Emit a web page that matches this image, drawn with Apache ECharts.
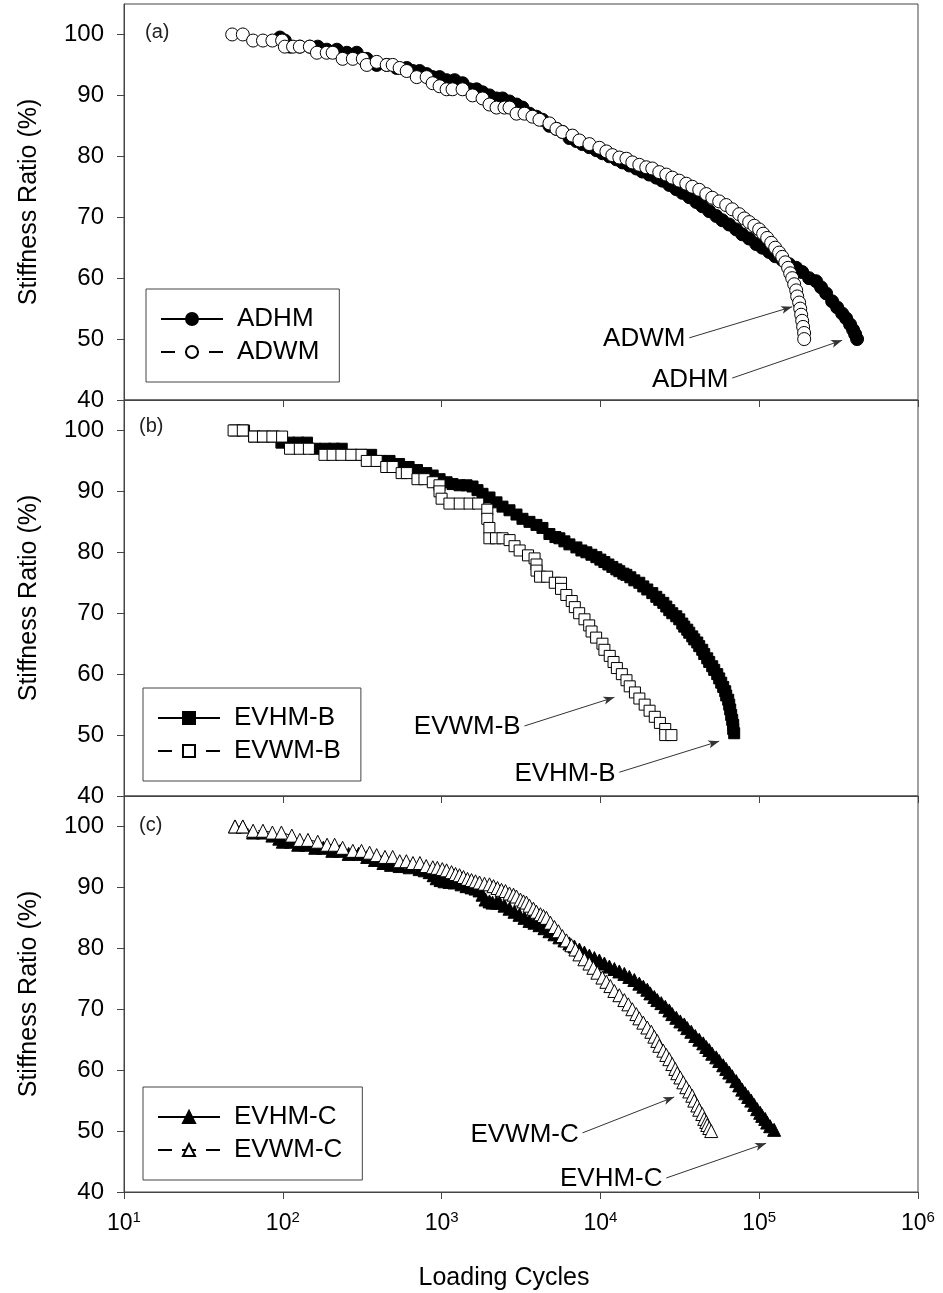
<!DOCTYPE html>
<html>
<head>
<meta charset="utf-8">
<script src="https://cdn.jsdelivr.net/npm/echarts@6/dist/echarts.min.js"></script>
<style>
html,body{margin:0;padding:0;background:#fff;}
#chart{width:943px;height:1293px;}
</style>
</head>
<body>
<div id="chart"></div>
<script>
// ---------- DATA (loading cycles, stiffness ratio %) ----------
const xTicks = [10, 100, 1000, 10000, 100000, 1000000];
const yTicks = [40, 50, 60, 70, 80, 90, 100];
const panelLabels = ['(a)', '(b)', '(c)'];

const ADHM = [[96,99.5],[103,99],[111,98],[128,98],[148,98],[166,98],[189,97.5],[219,97.5],[253,97],[292,97],
 [338,96],[390,95],[451,95],[521,94.5],[603,94.5],[658,94],[727,94],[805,93.5],[878,93],[971,93],
 [1075,92.5],[1208,92.5],[1355,92],[1499,91],[1660,91],[1811,90.5],[2003,90],[2218,89.5],[2421,89.5],[2676,89],
 [2965,88.5],[3229,88],[3575,87],[3954,86.5],[4316,86],[4776,85],[5286,84.5],[5765,84],[6380,83],[7063,82.5],
 [7707,82],[8525,81.5],[9433,81],[10300,80.5],[11390,80],[12620,79.5],[13760,79],[15210,78.5],[16830,78],[18370,77.5],
 [20320,77],[22480,76.5],[24530,76],[27150,75.3],[30050,74.6],[32800,74],[36270,73.3],[40140,72.5],[43840,71.8],[48450,71],
 [53660,70.2],[58500,69.5],[64730,68.8],[71630,68],[78200,67.2],[86480,66.5],[95700,65.6],[104500,65],[115500,64.3],[126100,63.6],
 [139700,63],[154300,62.3],[171000,61.7],[186500,61],[206200,60],[228000,59.5],[245200,58.5],[263900,57.5],[287900,56.2],[309600,55.2],
 [333000,54.2],[352700,53.4],[373500,52.4],[390300,51.5],[401800,50.8],[413300,50]];

const ADWM = [[48,100],[56,100],[65,99],[75,99],[86,99],[99,99],[103,98],[116,98],[128,98],[148,98],
 [164,97],[189,97],[206,97],[238,96],[276,96],[319,96],[338,95],[390,95.5],[451,95],[492,95],
 [544,94.5],[603,94],[697,93],[805,93],[878,92],[971,91.5],[1075,91],[1172,91],[1355,91],[1566,90],
 [1811,89.5],[2003,88.5],[2218,88],[2489,88],[2676,88],[2965,87],[3326,87],[3733,86.5],[4132,86],[4776,85.4],
 [5286,84.5],[5765,84],[6668,83.4],[7375,82.6],[8525,82],[9853,81.4],[10910,80.8],[11890,80.2],[13160,79.8],[14590,79.6],
 [15890,79],[17580,78.6],[19450,78.2],[21220,78],[23490,77.4],[25990,77],[28370,76.5],[31380,76],[34740,75.5],[37910,75],
 [41920,74.5],[46440,73.8],[50640,73.2],[56000,72.6],[61970,72],[67640,71.3],[74820,70.5],[80540,69.8],[86480,69.2],[93120,68.6],
 [99950,68],[105900,67.3],[112300,66.6],[119000,65.8],[126100,65],[133500,64.2],[139700,63.5],[146000,62.6],[152100,61.7],[156700,60.8],
 [161400,60],[166100,59],[171000,58],[173500,57],[178400,56],[181200,55],[183800,54],[186500,53],[189100,52],[191800,51],[192000,50]];

const EVHM_B = [[50,100],[57,100],[66,99],[76,99],[88,99],[98,98],[110,98],[125,98],[142,98],[160,97],
 [185,97],[210,97],[235,97],[270,96],[310,96],[360,96],[410,95],[470,95],[540,94.5],[620,94],
 [700,93.5],[800,93],[878,92.6],[971,92],[1075,91.5],[1172,91.2],[1297,91],[1436,91],[1566,90.8],[1683,90.2],
 [1810,89.6],[2003,89],[2217,88.2],[2418,87.5],[2676,86.9],[2962,86.2],[3230,85.5],[3575,85],[3957,84.5],[4316,84],
 [4776,83],[5210,82.5],[5520,82.3],[5935,81.8],[6380,81.3],[7061,80.8],[7592,80.3],[8163,80],[8776,79.6],[9435,79.2],
 [9997,78.8],[10593,78.4],[11226,78],[11896,77.6],[12606,77.2],[13160,76.9],[13946,76.5],[14565,76.3],[15432,75.9],[16352,75.4],
 [17580,75],[18630,74.4],[19741,73.9],[21222,73.3],[22490,72.7],[23490,72.2],[24892,71.7],[25999,71.1],[27150,70.5],[28355,70],
 [30050,69.5],[31380,69],[32774,68.3],[33737,67.8],[35237,67.3],[36270,66.8],[37880,66.2],[38994,65.7],[40728,65.2],[41920,64.6],
 [43781,64],[45068,63.3],[47072,62.6],[48450,62],[50601,61.3],[52089,60.7],[54405,60],[56000,59.3],[57646,58.6],[59343,57.9],
 [61085,57.2],[61981,56.5],[63801,55.8],[64730,55],[65675,54.2],[66633,53.3],[67604,52.5],[68594,51.7],[68594,51],[69591,50.3]];

const EVWM_B = [[49,100],[56,100],[66,99],[75,99],[86,99],[99,99],[111,97],[128,97],[146,97],[183,96],
 [206,96],[234,96],[270,96],[313,96],[338,95],[390,95],[448,94],[492,94],[560,93],[604,93],
 [705,92],[780,92],[880,91.5],[970,91],[970,90],[1000,88.8],[1120,88],[1300,88],[1500,88],[1700,88],
 [1940,87],[1940,85.5],[2000,84],[2000,82.3],[2200,82.3],[2420,82.3],[2680,82],[2880,81],[3100,80.3],[3500,79.5],
 [3850,79],[3960,78],[3960,77],[4170,76],[4620,76],[5160,75],[5650,75],[5650,74],[6100,73],[6600,72],
 [6900,71],[7350,70],[7940,69],[8500,68],[8800,67],[9400,66],[10300,65],[10600,64],[11450,63],[12100,62],
 [12700,61],[13650,60],[14600,59],[15300,58],[16500,57],[17600,56],[19000,55],[20400,54],[22000,53],[23700,52],
 [25600,51],[25600,50],[28000,50]];

const EVHM_C = [[50,100],[56,100],[65,99],[75,99],[86,98.5],[95,98],[100,97.5],[112,97.5],[125,97],[140,97],
 [160,96.5],[180,96.5],[205,96],[230,96],[260,95.5],[300,95.5],[340,95],[380,94.5],[430,94],[480,93.7],
 [544,93.5],[629,93.3],[727,93],[782,92.8],[841,92.5],[891,92],[931,91.5],[985,91.2],[1044,91],[1122,90.9],
 [1206,90.8],[1335,90.5],[1436,90.2],[1543,90],[1635,89.8],[1733,89.5],[1810,88.8],[1890,88],[2003,87.7],[2092,87.5],
 [2217,87.5],[2315,87.5],[2489,87],[2676,86.5],[2877,86],[3093,85.5],[3325,85],[3575,84.5],[3843,84.2],[4132,83.8],
 [4442,83.3],[4776,82.8],[5135,82.3],[5520,81.8],[5935,81.3],[6380,80.8],[6859,80.3],[7375,79.8],[7929,79.3],[8525,78.8],
 [9165,78.4],[9853,78],[10593,77.5],[11390,77],[12245,76.6],[13160,76.2],[14148,75.8],[15210,75.3],[16352,74.8],[17580,74.2],
 [18630,73.7],[19741,73.2],[20617,72.6],[21846,72],[22817,71.5],[24181,71],[25623,70.4],[27150,69.8],[28355,69.2],[30050,68.6],
 [31838,68],[33737,67.5],[35237,66.9],[37336,66.3],[39563,65.6],[41920,65],[44423,64.4],[46397,63.8],[48450,63.3],[50601,62.7],
 [53624,62.1],[56000,61.5],[59343,60.8],[61981,60.2],[64730,59.6],[67604,59],[71643,58.2],[74820,57.5],[78142,56.8],[81614,56.2],
 [85242,55.6],[89022,55],[92975,54.3],[97108,53.6],[101410,53],[104388,52.5],[109025,52],[112234,51.4],[117186,50.8],[124174,50.2]];

const EVWM_C = [[50,100],[56,100],[65,99.3],[75,99.3],[86,99],[98,99],[114,98.5],[128,97.8],[144,97.8],[166,97.5],
 [190,97],[212,97],[238,96.5],[276,96],[313,96],[352,95.7],[390,95.3],[440,95],[492,95],[545,94.3],
 [600,94.3],[660,94],[730,94],[800,93.5],[880,93.3],[940,93.2],[1010,93],[1075,92.8],[1155,92.5],[1224,92.2],
 [1297,92],[1374,91.7],[1456,91.4],[1543,91.2],[1635,91],[1733,90.8],[1863,90.6],[2003,90.5],[2123,90.2],[2249,89.9],
 [2383,89.6],[2525,89.4],[2676,89],[2836,88.8],[2962,88.5],[3138,88],[3278,87.7],[3423,87.5],[3575,87],[3788,86.5],
 [3957,86],[4192,85.6],[4379,85.3],[4573,85],[4846,84.2],[5135,83.5],[5441,82.8],[5765,82],[6110,81.3],[6568,80.5],
 [6959,79.8],[7375,79],[7929,78.2],[8525,77.5],[9034,76.8],[9572,76],[10290,75.2],[10905,74.5],[11556,73.8],[12245,73],
 [13160,72.3],[14148,71.5],[14993,70.8],[15885,70],[16834,69.2],[17580,68.5],[18630,67.8],[19741,67],[20917,66.3],[21846,65.5],
 [22817,64.8],[23490,64],[24892,63.2],[25999,62.5],[27150,61.8],[28355,61],[29615,60.2],[30487,59.5],[31838,58.8],[33253,58],
 [34731,57.2],[36270,56.5],[37880,55.8],[38994,55],[40728,54.2],[41920,53.5],[43781,52.8],[45068,52],[46397,51.5],[47072,51],
 [48450,50.5],[49874,50]];

// annotation arrows: [label, startCycles, startRatio, endCycles, endRatio]
const annA = [['ADWM', 36270, 50.2, 161400, 55.3], ['ADHM', 67640, 43.6, 333000, 49.8]];
const annB = [['EVWM-B', 3327, 51.5, 12250, 56.2], ['EVHM-B', 13160, 43.9, 56000, 49.0]];
const annC = [['EVWM-C', 7710, 49.7, 29170, 55.6], ['EVHM-C', 26000, 42.3, 110600, 48.0]];

// ---------- CHART ----------
const FONT = '"Liberation Sans", Arial, Helvetica, sans-serif';
const AX = '#444';
const tops = [4, 400, 796];
const H = 396;

const chart = echarts.init(document.getElementById('chart'), null, {renderer: 'canvas'});

const grids = tops.map(t => ({left: 124, right: 25, top: t, height: H, show: true,
  borderColor: AX, borderWidth: 1, backgroundColor: 'transparent', containLabel: false}));

const xAxes = [0, 1, 2].map(i => ({
  type: 'log', logBase: 10, gridIndex: i, min: xTicks[0], max: xTicks[xTicks.length - 1],
  axisLine: {show: true, lineStyle: {color: AX, width: 1}},
  axisTick: {show: true, inside: false, length: 7, lineStyle: {color: AX}},
  splitLine: {show: false}, minorTick: {show: false},
  axisLabel: {show: i === 2, margin: 18, color: '#000',
    formatter: v => '{b|10}{s|' + Math.round(Math.log10(v)) + '}',
    rich: {b: {fontSize: 23, fontFamily: FONT, color: '#000', lineHeight: 28},
           s: {fontSize: 15, fontFamily: FONT, color: '#000', verticalAlign: 'top', lineHeight: 16}}},
  name: i === 2 ? 'Loading Cycles' : '', nameLocation: 'middle', nameGap: 74,
  nameTextStyle: {fontSize: 25, fontFamily: FONT, color: '#000', padding: [0, 34, 0, 0]}
}));

const yAxes = [0, 1, 2].map(i => ({
  type: 'value', gridIndex: i, min: 40, max: 105, interval: 10,
  axisLine: {show: true, lineStyle: {color: AX, width: 1}},
  axisTick: {show: true, inside: false, length: 7, lineStyle: {color: AX}, customValues: yTicks},
  splitLine: {show: false},
  axisLabel: {show: true, margin: 20, fontSize: 24, fontFamily: FONT, color: '#000',
    customValues: yTicks, formatter: v => (v > 100 ? '' : String(v))},
  name: 'Stiffness Ratio (%)', nameLocation: 'middle', nameGap: 82,
  nameTextStyle: {fontSize: 25, fontFamily: FONT, color: '#000'}
}));

function mk(anns) {
  return {
    silent: true, symbol: ['none', 'arrow'], symbolSize: [6, 11],
    lineStyle: {color: '#333', width: 1, type: 'solid'},
    label: {show: true, position: 'start', distance: 4, fontSize: 26, fontFamily: FONT, color: '#000',
      formatter: p => p.name},
    data: anns.map(a => [{name: a[0], coord: [a[1], a[2]]}, {coord: [a[3], a[4]]}])
  };
}

function ser(name, data, idx, symbol, size, filled, dashed, ann) {
  const s = {
    name, type: 'line', data, xAxisIndex: idx, yAxisIndex: idx,
    symbol, symbolSize: size, showAllSymbol: true, showSymbol: true,
    lineStyle: {color: '#000', width: 1, type: dashed ? [14, 10] : 'solid'},
    itemStyle: {color: filled ? '#000' : '#fff', borderColor: '#000', borderWidth: 1, opacity: 1},
    emphasis: {disabled: true}
  };
  if (ann) s.markLine = mk(ann);
  return s;
}

const series = [
  ser('ADHM', ADHM, 0, 'circle', 13, true, false, null),
  ser('ADWM', ADWM, 0, 'circle', 13, false, true, annA),
  ser('EVHM-B', EVHM_B, 1, 'rect', 11, true, false, null),
  ser('EVWM-B', EVWM_B, 1, 'rect', 11, false, true, annB),
  ser('EVHM-C', EVHM_C, 2, 'triangle', 13, true, false, null),
  ser('EVWM-C', EVWM_C, 2, 'triangle', 13, false, true, annC)
];

function leg(names, left, top) {
  return {data: names, orient: 'vertical', left, top, itemWidth: 62, itemHeight: 15, itemGap: 5,
    padding: [16, 20, 16, 14], borderColor: AX, borderWidth: 1, backgroundColor: '#fff',
    selectedMode: false,
    textStyle: {fontSize: 26, fontFamily: FONT, color: '#000', lineHeight: 28, padding: [0, 0, 0, 9]}};
}

const titles = [
  {text: panelLabels[0], left: 145, top: 22},
  {text: panelLabels[1], left: 139, top: 416},
  {text: panelLabels[2], left: 139, top: 815}
].map(t => Object.assign(t, {padding: 0, textStyle: {fontSize: 20, fontWeight: 'normal', fontFamily: FONT, color: '#222'}}));

chart.setOption({
  animation: false,
  backgroundColor: '#fff',
  title: titles,
  grid: grids,
  xAxis: xAxes,
  yAxis: yAxes,
  legend: [leg(['ADHM', 'ADWM'], 146, 289), leg(['EVHM-B', 'EVWM-B'], 143, 688), leg(['EVHM-C', 'EVWM-C'], 143, 1087)],
  series
});
</script>
</body>
</html>
